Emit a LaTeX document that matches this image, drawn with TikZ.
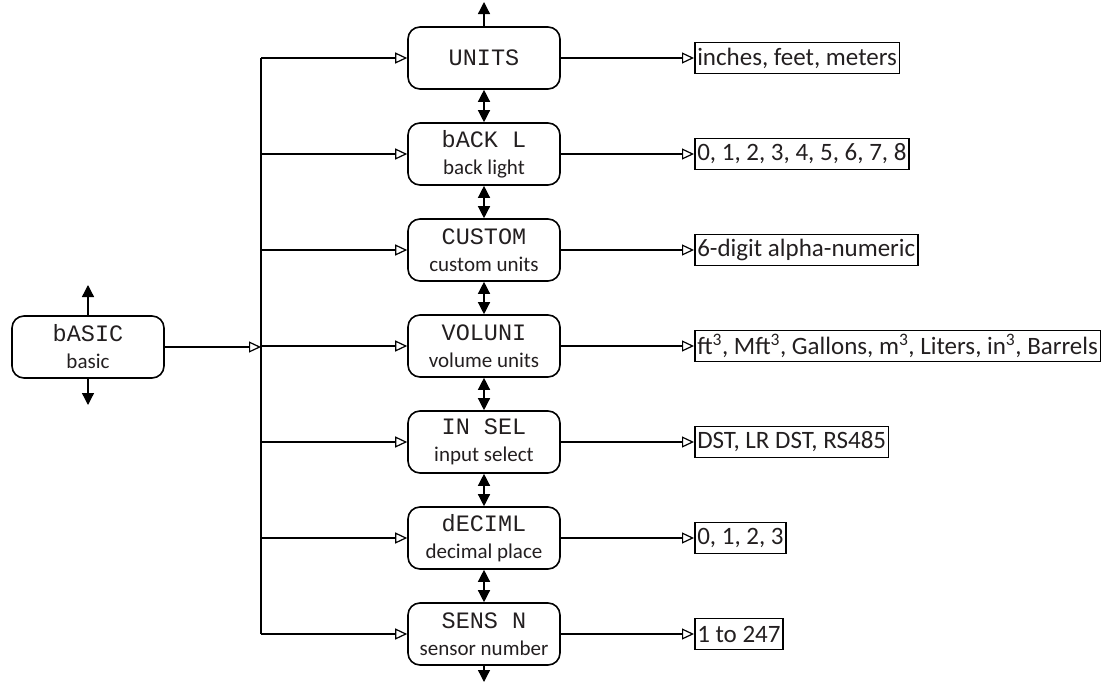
\documentclass[tikz,border=0pt]{standalone}
\usepackage{fontspec}
\setmainfont{Carlito}
\newfontfamily\lcd{Liberation Mono}
\usetikzlibrary{arrows.meta,positioning}
\definecolor{txt}{RGB}{35,31,32}
\tikzset{
  menu/.style={draw, line width=1.6pt, rounded corners=12pt, minimum width=152pt, minimum height=62pt, align=center, inner sep=0pt, text=txt, font=\fontsize{21}{27}\selectfont},
  val/.style={draw, line width=1.5pt, inner sep=2.5pt, anchor=west, minimum height=31pt, text=txt, font=\fontsize{25}{26}\selectfont},
  conn/.style={line width=1.3pt},
  opentip/.style={conn, -{Triangle[open, length=12pt, width=11pt, line width=1.2pt]}},
  filltip/.style={conn, -{Triangle[length=12pt, width=12pt]}},
  dbltip/.style={conn, {Triangle[length=12pt, width=12pt]}-{Triangle[length=12pt, width=12pt]}},
}
\newcommand{\lcdtxt}[1]{{\lcd\fontsize{23.5}{27}\selectfont #1}}
\begin{document}
\begin{tikzpicture}[x=1pt, y=-1pt]
\useasboundingbox (0,0) rectangle (1109,683);
% basic
\node[menu] (basic) at (88,347) {\lcdtxt{bASIC}\\basic};
\coordinate (bup) at (88,285);
\coordinate (bdn) at (88,405);
\draw[filltip] (basic.north) -- (bup);
\draw[filltip] (basic.south) -- (bdn);
% menus
\node[menu] (m1) at (484,58)  {\lcdtxt{UNITS}};
\node[menu] (m2) at (484,154) {\lcdtxt{bACK L}\\back light};
\node[menu] (m3) at (484,250) {\lcdtxt{CUSTOM}\\custom units};
\node[menu] (m4) at (484,346) {\lcdtxt{VOLUNI}\\volume units};
\node[menu] (m5) at (484,442) {\lcdtxt{IN SEL}\\input select};
\node[menu] (m6) at (484,538) {\lcdtxt{dECIML}\\decimal place};
\node[menu] (m7) at (484,634) {\lcdtxt{SENS N}\\sensor number};
\coordinate (top) at (484,2);
\coordinate (bot) at (484,682);
\draw[filltip] (m1.north) -- (top);
\draw[filltip] (m7.south) -- (bot);
\foreach \a/\b in {m1/m2,m2/m3,m3/m4,m4/m5,m5/m6,m6/m7}
  \draw[dbltip] (\a.south) -- (\b.north);
% bus
\coordinate (bustop) at (261,58);
\coordinate (busbot) at (261,634);
\coordinate (busmid) at (261,347);
\draw[conn] (bustop) -- (busbot);
\draw[opentip] (basic.east) -- (busmid);
\foreach \m in {m1,m2,m3,m4,m5,m6,m7}
  \draw[opentip] (\m.west -| bustop) -- (\m.west);
% values
\node[val] (v1) at (694,58)  {inches, feet, meters};
\node[val] (v2) at (694,154) {0, 1, 2, 3, 4, 5, 6, 7, 8};
\node[val] (v3) at (694,250) {6-digit alpha-numeric};
\node[val] (v4) at (694,346) {ft\textsuperscript{3}, Mft\textsuperscript{3}, Gallons, m\textsuperscript{3}, Liters, in\textsuperscript{3}, Barrels};
\node[val] (v5) at (694,442) {DST, LR DST, RS485};
\node[val] (v6) at (694,538) {0, 1, 2, 3};
\node[val] (v7) at (694,634) {1 to 247};
\foreach \i in {1,...,7}
  \draw[opentip] (m\i.east) -- (v\i.west);
\end{tikzpicture}
\end{document}
